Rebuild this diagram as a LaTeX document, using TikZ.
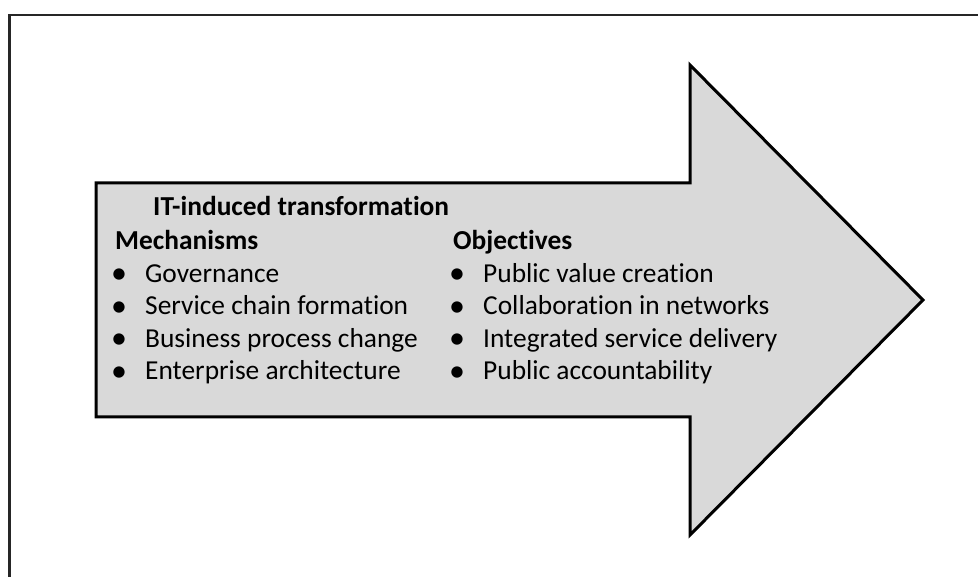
\documentclass[tikz,border=0pt]{standalone}
\usepackage{fontspec}
\setmainfont[Ligatures=NoCommon]{Carlito}
\begin{document}
\begin{tikzpicture}[x=1pt,y=-1pt,
  txt/.style={anchor=base west,inner sep=0pt,font=\fontsize{27.4}{32}\selectfont},
  hdr/.style={txt,font=\fontsize{27.4}{32}\selectfont\bfseries},
  bul/.style={anchor=base,inner sep=0pt,font=\fontsize{32}{32}\selectfont},
  arrowshape/.style={draw=black,line width=3pt,fill=black!15,line join=miter},
  frame/.style={draw=black!85,line width=2.2pt}]
\useasboundingbox (0,0) rectangle (978,577);
\draw[frame] (9.5,577) -- (9.5,15) -- (978,15);
\draw[arrowshape] (96,183) -- (690,183) -- (690,65) -- (923,300) -- (690,535) -- (690,417) -- (96,417) -- cycle;
\node[hdr] (title) at (153,216) {IT-induced transformation};
\node[hdr] (mech) at (115,250) {Mechanisms};
\node[hdr] (obj) at (453,250) {Objectives};
\foreach \t [count=\i] in {Governance,Service chain formation,Business process change,Enterprise architecture}{
  \node[bul] (mb\i) at (119,251.5+32.5*\i) {•};
  \node[txt] (mt\i) at (145,250+32.5*\i) {\t};
}
\foreach \t [count=\i] in {Public value creation,Collaboration in networks,Integrated service delivery,Public accountability}{
  \node[bul] (ob\i) at (457,251.5+32.5*\i) {•};
  \node[txt] (ot\i) at (483,250+32.5*\i) {\t};
}
\end{tikzpicture}
\end{document}
